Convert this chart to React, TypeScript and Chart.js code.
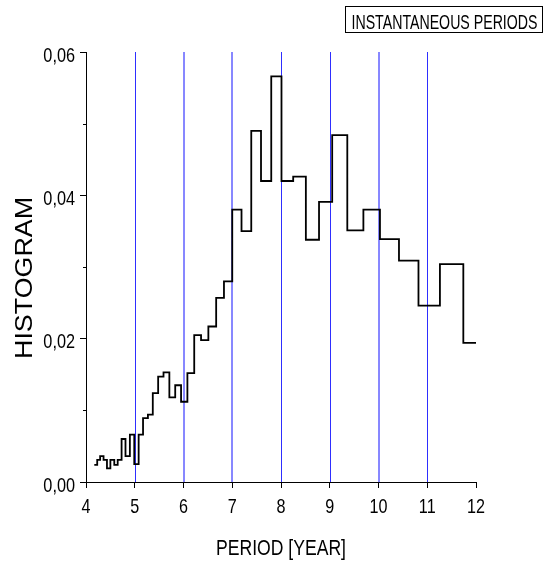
import { useEffect, useRef } from 'react';
import { Chart, registerables } from 'chart.js';

Chart.register(...registerables);

// Bin edges (period, years) and histogram heights
const binEdges = [
  4.17, 4.23, 4.29, 4.36, 4.43, 4.50, 4.58, 4.65, 4.73, 4.81,
  4.90, 4.99, 5.08, 5.17, 5.27, 5.37, 5.48, 5.59, 5.71, 5.83,
  5.95, 6.08, 6.22, 6.36, 6.51, 6.67, 6.83, 7.00, 7.19, 7.39,
  7.59, 7.80, 8.01, 8.25, 8.51, 8.78, 9.05, 9.36, 9.69, 10.03,
  10.42, 10.82, 11.26, 11.74, 12.0,
];
const histValues = [
  0.0024, 0.0031, 0.0036, 0.0031, 0.0019, 0.0031, 0.0024, 0.0031, 0.0060, 0.0036,
  0.0066, 0.0025, 0.0066, 0.0089, 0.0094, 0.0124, 0.0147, 0.0153, 0.0118, 0.0135,
  0.0112, 0.0152, 0.0205, 0.0198, 0.0217, 0.0257, 0.0280, 0.0380, 0.0350, 0.0490,
  0.0420, 0.0566, 0.0420, 0.0426, 0.0338, 0.0391, 0.0484, 0.0351, 0.0380, 0.0339,
  0.0309, 0.0246, 0.0304, 0.0194,
];
const gridLineValues = [5, 6, 7, 8, 9, 10, 11];
const legendText = 'INSTANTANEOUS PERIODS';
const xTitle = 'PERIOD [YEAR]';
const yTitle = 'HISTOGRAM';

const FONT = '"Liberation Sans", Arial, sans-serif';
const SOFT_LINES = new Set([6, 7, 10]);

function drawScaled(ctx: CanvasRenderingContext2D, text: string, x: number, y: number, size: number, sx: number, align: CanvasTextAlign) {
  ctx.save();
  ctx.font = `${size}px ${FONT}`;
  ctx.textAlign = align;
  ctx.textBaseline = 'alphabetic';
  ctx.translate(x, y);
  ctx.scale(sx, 1);
  ctx.fillText(text, 0, 0);
  ctx.restore();
}

function drawFit(ctx: CanvasRenderingContext2D, text: string, x: number, y: number, size: number, width: number) {
  ctx.save();
  ctx.font = `${size}px ${FONT}`;
  const w = ctx.measureText(text).width;
  ctx.restore();
  drawScaled(ctx, text, x, y, size, width / w, 'center');
}

const gridPlugin = {
  id: 'gridPlugin',
  beforeDatasetsDraw(chart: any) {
    const ctx: CanvasRenderingContext2D = chart.ctx;
    const xs = chart.scales.x;
    const area = chart.chartArea;
    ctx.save();
    ctx.lineWidth = 1;
    gridLineValues.forEach((v) => {
      const soft = SOFT_LINES.has(v);
      const base = Math.round(xs.getPixelForValue(v));
      const px = soft ? base : base + 0.5;
      ctx.strokeStyle = soft ? '#1010ff' : '#2e2eff';
      ctx.beginPath();
      ctx.moveTo(px, area.top);
      ctx.lineTo(px, area.bottom);
      ctx.stroke();
    });
    ctx.restore();
  },
};

const textPlugin = {
  id: 'textPlugin',
  afterDraw(chart: any) {
    const ctx: CanvasRenderingContext2D = chart.ctx;
    const xs = chart.scales.x;
    const ys = chart.scales.y;
    ctx.save();
    ctx.fillStyle = '#000';
    ctx.strokeStyle = '#000';
    // x tick labels
    xs.ticks.forEach((t: any) => {
      const px = xs.getPixelForValue(t.value);
      drawScaled(ctx, String(Math.round(t.value)), px, 513, 21, 0.77, 'center');
    });
    // y tick labels and minor ticks
    ys.ticks.forEach((t: any) => {
      const py = ys.getPixelForValue(t.value);
      const k = Math.round(t.value * 100);
      if (k % 2 === 0) {
        const label = (k / 100).toFixed(2).replace('.', ',');
        drawScaled(ctx, label, 75, py + 9.5, 21, 0.775, 'right');
      } else {
        ctx.lineWidth = 1;
        ctx.beginPath();
        ctx.moveTo(xs.left - 3, Math.round(py) + 0.5);
        ctx.lineTo(xs.left, Math.round(py) + 0.5);
        ctx.stroke();
      }
    });
    // axis titles
    drawFit(ctx, xTitle, (xs.left + xs.right) / 2, 555, 22, 130);
    ctx.save();
    ctx.translate(31.5, 278);
    ctx.rotate(-Math.PI / 2);
    drawFit(ctx, yTitle, 0, 0, 23, 162);
    ctx.restore();
    // legend box
    ctx.lineWidth = 1;
    ctx.strokeRect(345.5, 6.5, 197, 26);
    drawFit(ctx, legendText, 444.5, 28.5, 21, 186);
    ctx.restore();
  },
};

export default function App() {
  const ref = useRef<HTMLCanvasElement>(null);
  useEffect(() => {
    if (!ref.current) return;
    const points = binEdges.map((x, i) => ({ x, y: histValues[Math.min(i, histValues.length - 1)] }));
    const chart = new Chart(ref.current, {
      type: 'line',
      data: {
        datasets: [
          {
            label: legendText,
            data: points,
            stepped: 'before',
            borderColor: '#000',
            borderWidth: 1.8,
            pointRadius: 0,
            fill: false,
          },
        ],
      },
      options: {
        animation: false,
        responsive: false,
        layout: { padding: { left: 0, top: 52, right: 68, bottom: 0 } },
        plugins: { legend: { display: false }, tooltip: { enabled: false } },
        scales: {
          x: {
            type: 'linear',
            min: 4,
            max: 12,
            ticks: { stepSize: 1, display: false },
            border: { display: true, color: '#000', width: 1 },
            grid: {
              drawOnChartArea: false,
              drawTicks: true,
              tickLength: 6,
              tickColor: '#000',
            },
            afterFit: (s: any) => { s.height = 81; },
          },
          y: {
            type: 'linear',
            min: 0,
            max: 0.06,
            ticks: { stepSize: 0.01, display: false },
            border: { display: true, color: '#000', width: 1 },
            grid: {
              drawOnChartArea: false,
              drawTicks: true,
              tickLength: 6,
              tickColor: '#000',
              tickWidth: (c: any) => (c.tick && Math.round(c.tick.value * 100) % 2 === 0 ? 1 : 0),
            },
            afterFit: (s: any) => { s.width = 86; },
          },
        },
      },
      plugins: [gridPlugin, textPlugin],
    });
    return () => chart.destroy();
  }, []);
  return (
    <div style={{ position: 'fixed', left: 0, top: 0, width: 544, height: 563, background: '#fff' }}>
      <canvas ref={ref} width={544} height={563} style={{ display: 'block' }} />
    </div>
  );
}
